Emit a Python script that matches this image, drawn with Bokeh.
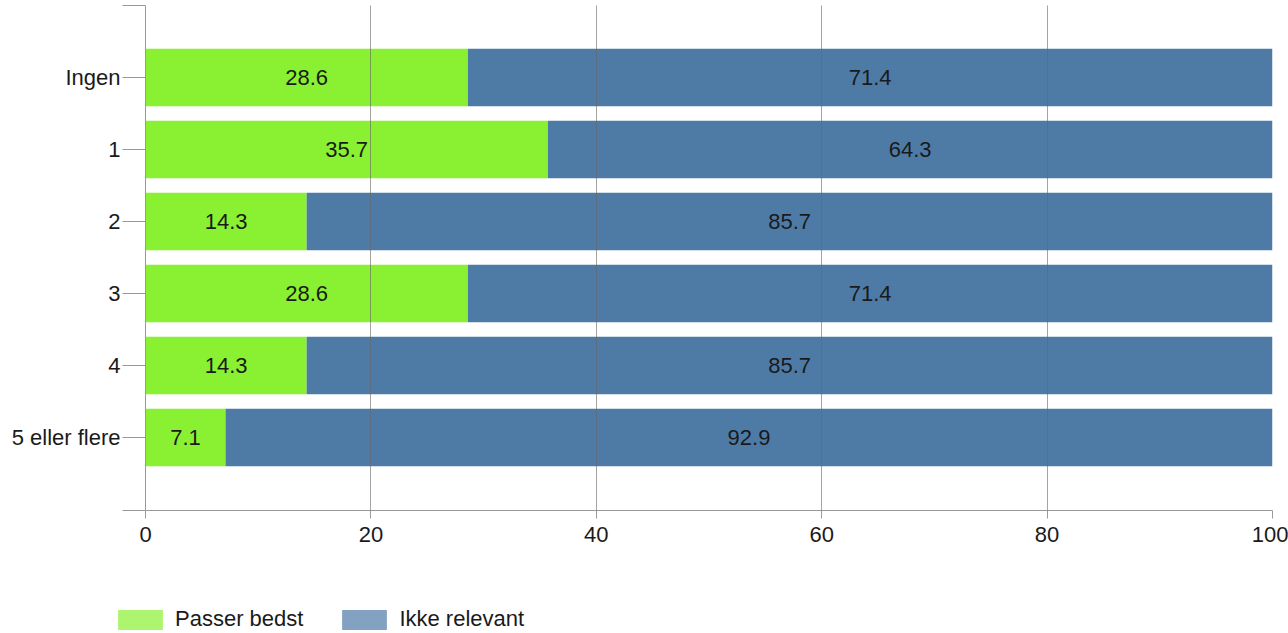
from bokeh.plotting import figure
from bokeh.layouts import column, row
from bokeh.models import ColumnDataSource, FixedTicker, Legend, LegendItem
from bokeh.core.properties import value
from bokeh.embed import file_html
from bokeh.resources import INLINE

categories = ["Ingen", "1", "2", "3", "4", "5 eller flere"]
passer_bedst = [28.6, 35.7, 14.3, 28.6, 14.3, 7.1]
ikke_relevant = [71.4, 64.3, 85.7, 71.4, 85.7, 92.9]
series_names = ["Passer bedst", "Ikke relevant"]
x_ticks = [0, 20, 40, 60, 80, 100]

n = len(categories)
ypos = [n - 1 - i for i in range(n)]
green = "#8AF032"
blue = "#4E7BA6"
FONT = "Liberation Sans"
FS = "22px"
TXT = "#1a1a1a"

src = ColumnDataSource(dict(
    y=ypos,
    cat=categories,
    g_left=[0] * n,
    g_right=passer_bedst,
    b_left=passer_bedst,
    b_right=[a + b for a, b in zip(passer_bedst, ikke_relevant)],
    g_mid=[v / 2 for v in passer_bedst],
    b_mid=[a + b / 2 for a, b in zip(passer_bedst, ikke_relevant)],
    g_txt=[f"{v:.1f}" for v in passer_bedst],
    b_txt=[f"{v:.1f}" for v in ikke_relevant],
))

y_bottom = -(510 - 437) / 72.0
y_top = (n - 1) + (77 - 5) / 72.0

p1 = figure(width=1288, height=560, output_backend="svg", toolbar_location=None,
            x_range=(0, 100), y_range=(y_bottom, y_top),
            min_border_left=145, min_border_right=16, min_border_top=5,
            min_border_bottom=50)
p1.outline_line_color = None

p1.hbar(y="y", left="g_left", right="g_right", height=0.8, source=src,
        fill_color=green, line_color=None)
p1.hbar(y="y", left="b_left", right="b_right", height=0.8, source=src,
        fill_color=blue, line_color=None)

for col, txt in (("g_mid", "g_txt"), ("b_mid", "b_txt")):
    p1.text(x=col, y="y", text=txt, source=src, text_align="center",
            text_baseline="middle", text_font=value(FONT),
            text_font_size=FS, text_color=TXT)

# axes
p1.xaxis.ticker = FixedTicker(ticks=x_ticks)
p1.xaxis.major_tick_out = 8
p1.xaxis.major_tick_in = 0
p1.xaxis.minor_tick_line_color = None
p1.xaxis.axis_line_color = "#999999"
p1.xaxis.major_tick_line_color = "#999999"
p1.xaxis.major_label_text_font = FONT
p1.xaxis.major_label_text_font_size = FS
p1.xaxis.major_label_text_color = TXT
p1.xaxis.major_label_standoff = 8

eps = 0.003
yt = [y_bottom + eps] + ypos[::-1] + [y_top - eps]
p1.yaxis.ticker = FixedTicker(ticks=yt)
overrides = {y: c for y, c in zip(ypos, categories)}
overrides[yt[0]] = ""
overrides[yt[-1]] = ""
p1.yaxis.major_label_overrides = overrides
p1.yaxis.major_tick_out = 23
p1.yaxis.major_tick_in = 0
p1.yaxis.minor_tick_line_color = None
p1.yaxis.axis_line_color = "#999999"
p1.yaxis.major_tick_line_color = "#999999"
p1.yaxis.major_label_text_font = FONT
p1.yaxis.major_label_text_font_size = FS
p1.yaxis.major_label_text_color = TXT
p1.yaxis.major_label_standoff = 2

p1.ygrid.grid_line_color = None
p1.xgrid.ticker = FixedTicker(ticks=x_ticks[1:])
p1.xgrid.grid_line_color = "#666666"
p1.xgrid.grid_line_alpha = 0.6
p1.xgrid.level = "overlay"

# legend strip below
p2 = figure(width=1288, height=73, output_backend="svg", toolbar_location=None,
            x_range=(0, 1), y_range=(0, 1), min_border=0)
p2.outline_line_color = None
p2.axis.visible = False
p2.grid.grid_line_color = None
leg_g = p2.hbar(y=50, left=50, right=51, height=0.1, fill_color=green,
                fill_alpha=0.7, line_color=None)
leg_b = p2.hbar(y=50, left=50, right=51, height=0.1, fill_color=blue,
                fill_alpha=0.7, line_color=None)
legend = Legend(items=[LegendItem(label=series_names[0], renderers=[leg_g]),
                       LegendItem(label=series_names[1], renderers=[leg_b])],
                orientation="horizontal", location=(112, 1),
                glyph_width=56, glyph_height=25, label_text_font=FONT,
                label_text_font_size=FS, label_text_color=TXT,
                label_height=20, padding=0, margin=0, spacing=33,
                label_standoff=7,
                border_line_color=None, background_fill_alpha=0)
p2.add_layout(legend, "center")

p = column(p1, row(p2, spacing=0), spacing=0)
open("out.html", "w").write(file_html(p, INLINE))
